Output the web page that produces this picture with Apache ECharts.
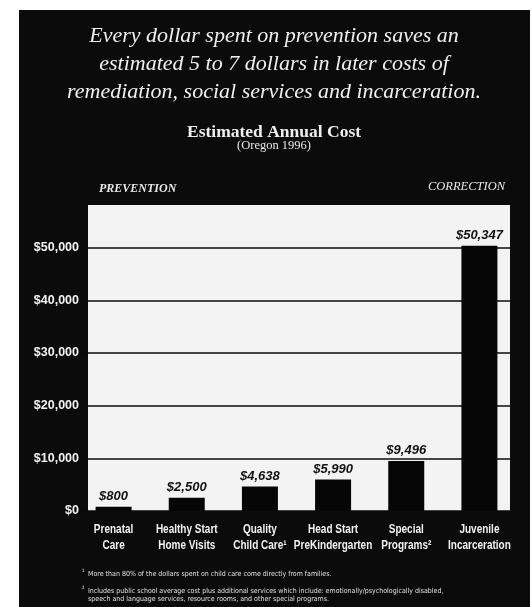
<!DOCTYPE html>
<html>
<head>
<meta charset="utf-8">
<script src="https://cdn.jsdelivr.net/npm/echarts@6/dist/echarts.min.js"></script>
<style>
html,body{margin:0;padding:0;background:#fff;}
#chart{width:532px;height:607px;}
</style>
</head>
<body>
<div id="chart"></div>
<script>
const categories = ['Prenatal\nCare', 'Healthy Start\nHome Visits', 'Quality\nChild Care\u00B9', 'Head Start\nPreKindergarten', 'Special\nPrograms\u00B2', 'Juvenile\nIncarceration'];
const values = [800, 2500, 4638, 5990, 9496, 50347];
const yMax = 60000;
const yInterval = 10000;
const headline = ['Every dollar spent on prevention saves an', 'estimated 5 to 7 dollars in later costs of', 'remediation, social services and incarceration.'];
const chartTitle = 'Estimated Annual Cost';
const chartSubtitle = '(Oregon 1996)';
const leftTag = 'PREVENTION';
const rightTag = 'CORRECTION';
const footnotes = [
  ['\u00B9', 'More than 80% of the dollars spent on child care come directly from families.'],
  ['\u00B2', 'Includes public school average cost plus additional services which include: emotionally/psychologically disabled,\nspeech and language services, resource rooms, and other special programs.']
];

const fmt = v => '$' + v.toLocaleString('en-US');
const serif = "'Liberation Serif', 'DejaVu Serif', serif";
const sans = "'Liberation Sans', Arial, sans-serif";
const cond = "'DejaVu Sans Condensed', 'DejaVu Sans', sans-serif";
const BG = '#0b0b0b';

const chart = echarts.init(document.getElementById('chart'));

const graphics = [
  {id: 'bg', type: 'rect', z: -10, shape: {x: 19, y: 10, width: 511, height: 597}, style: {fill: BG}, silent: true},
  {id: 'plot', type: 'rect', z: -9, shape: {x: 88, y: 205, width: 422, height: 306}, style: {fill: '#f3f3f3'}, silent: true}
];
headline.forEach((t, i) => {
  graphics.push({id: 'h' + i, type: 'text', x: 274, y: 36 + i * 28, style: {text: t, fill: '#f0f0f0', font: 'italic 22px ' + serif, textAlign: 'center', textVerticalAlign: 'middle'}});
});
graphics.push({id: 't1', type: 'text', x: 274, y: 132, style: {text: chartTitle, fill: '#f0f0f0', font: 'bold 17.5px ' + serif, textAlign: 'center', textVerticalAlign: 'middle'}});
graphics.push({id: 't2', type: 'text', x: 274, y: 146, style: {text: chartSubtitle, fill: '#e8e8e8', font: '12.5px ' + serif, textAlign: 'center', textVerticalAlign: 'middle'}});
graphics.push({id: 'tl', type: 'text', x: 99, y: 189, style: {text: leftTag, fill: '#e8e8e8', font: 'italic bold 12px ' + serif, textAlign: 'left', textVerticalAlign: 'middle'}});
graphics.push({id: 'tr', type: 'text', x: 505, y: 187, style: {text: rightTag, fill: '#e8e8e8', font: 'italic 12.5px ' + serif, textAlign: 'right', textVerticalAlign: 'middle'}});
footnotes.forEach((f, i) => {
  const y = i === 0 ? 574 : 591;
  graphics.push({id: 'fm' + i, type: 'text', x: 82, y: y - 2, style: {text: f[0], fill: '#e0e0e0', font: '7px ' + cond, textAlign: 'left', textVerticalAlign: 'middle'}});
  graphics.push({id: 'ft' + i, type: 'text', x: 88, y: y - 4, style: {text: f[1], fill: '#e0e0e0', font: '7px ' + cond, textAlign: 'left', textVerticalAlign: 'top', lineHeight: 8}});
});

chart.setOption({
  animation: false,
  backgroundColor: 'transparent',
  graphic: {elements: graphics},
  grid: {left: 77, top: 195, width: 439, height: 316, containLabel: false},
  xAxis: {
    type: 'category',
    data: categories,
    z: 1,
    axisLine: {show: false},
    axisTick: {show: false},
    axisLabel: {show: false}
  },
  yAxis: {
    type: 'value',
    min: 0,
    max: yMax,
    interval: yInterval,
    z: 1,
    axisLine: {show: false},
    axisTick: {show: false},
    splitLine: {showMaxLine: false, lineStyle: {color: BG, width: 1.5}},
    axisLabel: {color: '#f2f2f2', fontFamily: sans, fontWeight: 'bold', fontSize: 12.5, margin: -2,
      formatter: v => v >= yMax ? '' : fmt(v)}
  },
  series: [{
    type: 'bar',
    z: 3,
    data: values,
    barWidth: 36,
    itemStyle: {color: '#060606'},
    label: {show: true, position: 'top', distance: 4, color: '#111', fontFamily: sans, fontWeight: 'bold', fontStyle: 'italic', fontSize: 13,
      formatter: p => fmt(p.value)}
  }]
});

// condensed category labels placed at the axis' own category positions
const baseY = chart.convertToPixel({yAxisIndex: 0}, 0);
const labelEls = categories.map((c, i) => ({
  id: 'xl' + i,
  type: 'text',
  x: chart.convertToPixel({xAxisIndex: 0}, i),
  y: baseY + 10,
  scaleX: 0.77,
  style: {text: c, fill: '#f2f2f2', font: 'bold 13px ' + sans, textAlign: 'center', textVerticalAlign: 'top', lineHeight: 16}
}));
chart.setOption({graphic: {elements: labelEls}});
</script>
</body>
</html>
